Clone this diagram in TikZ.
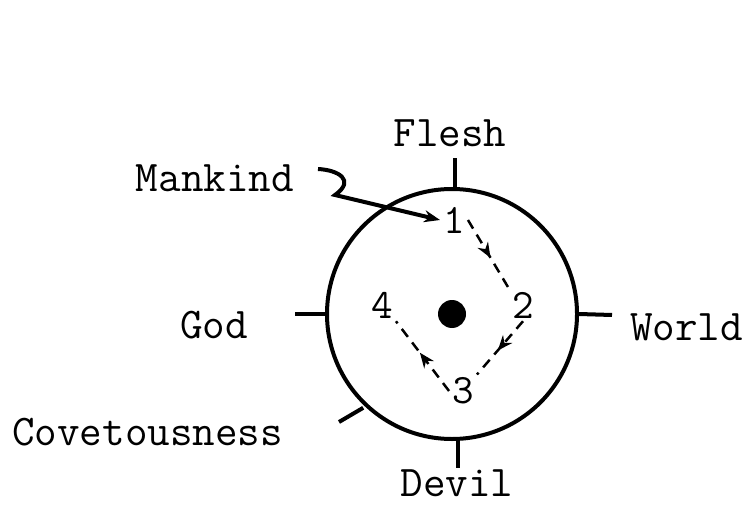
\documentclass[tikz,border=0pt]{standalone}
\usepackage{tikz}
\usetikzlibrary{arrows.meta,decorations.markings}

\tikzset{
  word/.style={font=\fontsize{44}{48}\selectfont\ttfamily, inner sep=0pt},
  digit/.style={font=\fontsize{42}{46}\selectfont\ttfamily, inner sep=3pt},
  tickline/.style={line width=4bp},
  cycleline/.style={line width=2.5bp, dash pattern=on 10bp off 7bp,
    decoration={markings, mark=at position 0.55 with {\arrow{Stealth[length=15bp,width=12bp]}}},
    postaction=decorate},
}

\begin{document}
\begin{tikzpicture}[x=1bp,y=-1bp]
  \useasboundingbox (0,0) rectangle (747,508);

  % Circle and centre
  \node[draw, circle, line width=4bp, minimum size=250bp, inner sep=0pt] (ring) at (452,314) {};
  \fill (452,314) circle (14bp);

  % Ticks
  \coordinate (tN) at (455,158);
  \coordinate (tW) at (295,314);
  \coordinate (tE) at (612,315);
  \coordinate (tS) at (458,468);
  \coordinate (tC) at (339,422);
  \draw[tickline] (ring.north) ++(3,0) -- (tN);
  \draw[tickline] (ring.west) -- (tW);
  \draw[tickline] (ring.east) -- (tE);
  \draw[tickline] (ring.south) ++(6,0) -- (tS);
  \draw[tickline] (ring.-135) ++(1,4) -- (tC);

  % Labels
  \node[word] (flesh) at (450,133) {Flesh};
  \node[word] (mankind) at (215,178) {Mankind};
  \node[word] (god) at (214,325) {God};
  \node[word, anchor=west] (world) at (630,327) {World};
  \node[word, anchor=west] (covet) at (12,432) {Covetousness};
  \node[word, anchor=north] (devil) at (457,470) {Devil};

  % Numbers
  \node[digit] (n1) at (454,220) {1};
  \node[digit] (n2) at (523,305) {2};
  \node[digit] (n3) at (463,391) {3};
  \node[digit] (n4) at (382,305) {4};

  % Mankind arrow
  \coordinate (mkstart) at (318,169);
  \draw[line width=4bp, -{Stealth[length=16bp,width=12bp]}]
    (mkstart) .. controls (338,170) and (356,180) .. (335,195) -- (n1.west);

  % Cycle 1 -> 2 -> 3 -> 4
  \draw[cycleline] (n1.east) -- (n2.north west);
  \draw[cycleline] (n2.south) -- (n3.north east);
  \draw[cycleline] (n3.west) -- (n4.south east);
\end{tikzpicture}
\end{document}
